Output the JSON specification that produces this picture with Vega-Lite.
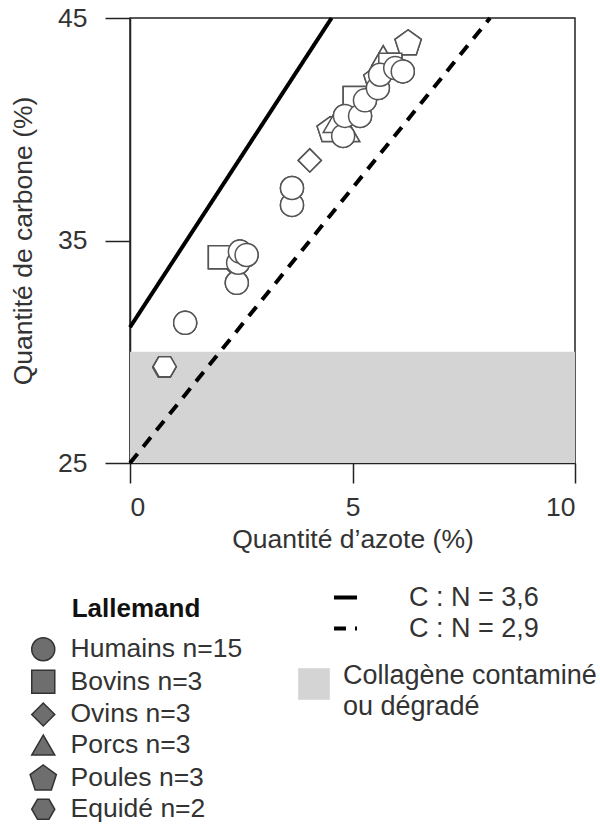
{
  "$schema": "https://vega.github.io/schema/vega-lite/v6.json",
  "width": 445,
  "height": 445,
  "autosize": {"type": "none"},
  "padding": {"left": 130, "top": 18, "right": 25, "bottom": 366},
  "background": "white",
  "config": {
    "view": {"stroke": "#222", "strokeWidth": 1.5},
    "font": "Liberation Sans",
    "axis": {
      "grid": false,
      "domainColor": "#222",
      "domainWidth": 1.5,
      "tickColor": "#222",
      "tickWidth": 1.5,
      "labelFont": "Liberation Sans",
      "labelFontSize": 26.5,
      "labelColor": "#333",
      "titleFont": "Liberation Sans",
      "titleFontSize": 26.5,
      "titleFontWeight": "normal",
      "titleColor": "#333"
    },
    "legend": {
      "labelFont": "Liberation Sans",
      "titleFont": "Liberation Sans",
      "labelColor": "#333",
      "padding": 0
    }
  },
  "datasets": {
    "band": [
      {"n0": 0, "n1": 10, "c0": 25, "c1": 30, "zone": "Collagène contaminé|ou dégradé"}
    ],
    "lines": [
      {"ratio": "C : N = 3,6", "n": 0, "c": 31.1},
      {"ratio": "C : N = 3,6", "n": 4.53, "c": 45},
      {"ratio": "C : N = 2,9", "n": 0, "c": 25},
      {"ratio": "C : N = 2,9", "n": 8.09, "c": 45}
    ],
    "points": [
      {"species": "Equidé n=2", "n": 0.77, "c": 29.3},
      {"species": "Equidé n=2", "n": 0.78, "c": 29.33},
      {"species": "Poules n=3", "n": 6.25, "c": 43.9},
      {"species": "Poules n=3", "n": 4.5, "c": 40.0},
      {"species": "Poules n=3", "n": 5.55, "c": 42.3},
      {"species": "Porcs n=3", "n": 5.69, "c": 43.3},
      {"species": "Porcs n=3", "n": 4.6, "c": 40.3},
      {"species": "Porcs n=3", "n": 4.9, "c": 39.9},
      {"species": "Ovins n=3", "n": 4.04, "c": 38.6},
      {"species": "Ovins n=3", "n": 2.35, "c": 33.9},
      {"species": "Ovins n=3", "n": 5.7, "c": 42.6},
      {"species": "Bovins n=3", "n": 2.02, "c": 34.25},
      {"species": "Bovins n=3", "n": 5.85, "c": 42.9},
      {"species": "Bovins n=3", "n": 5.05, "c": 41.4},
      {"species": "Humains n=15", "n": 1.24, "c": 31.3},
      {"species": "Humains n=15", "n": 2.4, "c": 33.1},
      {"species": "Humains n=15", "n": 2.43, "c": 34.0},
      {"species": "Humains n=15", "n": 2.47, "c": 34.5},
      {"species": "Humains n=15", "n": 2.62, "c": 34.35},
      {"species": "Humains n=15", "n": 3.64, "c": 36.6},
      {"species": "Humains n=15", "n": 3.64, "c": 37.36},
      {"species": "Humains n=15", "n": 4.79, "c": 39.7},
      {"species": "Humains n=15", "n": 4.83, "c": 40.6},
      {"species": "Humains n=15", "n": 5.17, "c": 40.6},
      {"species": "Humains n=15", "n": 5.28, "c": 41.3},
      {"species": "Humains n=15", "n": 5.57, "c": 41.85},
      {"species": "Humains n=15", "n": 5.62, "c": 42.45},
      {"species": "Humains n=15", "n": 5.96, "c": 42.75},
      {"species": "Humains n=15", "n": 6.13, "c": 42.6}
    ]
  },
  "layer": [
    {
      "data": {"name": "band"},
      "mark": {"type": "rect"},
      "encoding": {
        "x": {"field": "n0", "type": "quantitative", "scale": {"domain": [0, 10], "nice": false, "zero": false},
          "axis": {"values": [0, 5, 10], "tickSize": 20, "labelPadding": 11, "titlePadding": 6, "title": "Quantité d’azote (%)"}},
        "x2": {"field": "n1"},
        "y": {"field": "c0", "type": "quantitative", "scale": {"domain": [25, 45], "nice": false, "zero": false},
          "axis": {"values": [25, 35, 45], "tickSize": 25, "labelPadding": 18, "titlePadding": 20, "title": "Quantité de carbone (%)"}},
        "y2": {"field": "c1"},
        "fill": {
          "field": "zone", "type": "nominal",
          "scale": {"domain": ["Collagène contaminé|ou dégradé"], "range": ["#d4d4d4"]},
          "legend": {
            "title": null,
            "orient": "none",
            "legendX": 168,
            "legendY": 650,
            "symbolType": "square",
            "symbolSize": 1000,
            "symbolStrokeWidth": 0,
            "labelFontSize": 27,
            "labelOffset": 13,
            "labelLimit": 400,
            "labelBaseline": "alphabetic",
            "labelExpr": "split(datum.label, '|')",
            "encode": {"labels": {"update": {"lineHeight": {"value": 31}}}}
          }
        }
      }
    },
    {
      "data": {"name": "lines"},
      "mark": {"type": "line", "color": "black", "strokeWidth": 4},
      "encoding": {
        "x": {"field": "n", "type": "quantitative"},
        "y": {"field": "c", "type": "quantitative"},
        "detail": {"field": "ratio"},
        "strokeDash": {
          "field": "ratio", "type": "nominal",
          "scale": {"domain": ["C : N = 3,6", "C : N = 2,9"], "range": [[1, 0], [12, 9]]},
          "legend": {
            "title": null,
            "orient": "none",
            "legendX": 202,
            "legendY": 566,
            "symbolType": "stroke",
            "symbolSize": 529,
            "symbolStrokeWidth": 4,
            "symbolStrokeColor": "black",
            "labelFontSize": 27,
            "labelOffset": 50,
            "rowPadding": 3,
            "encode": {
              "symbols": {
                "update": {
                  "strokeDash": {"signal": "datum.value === 'C : N = 2,9' ? [5, 3] : [1, 0]"}
                }
              }
            }
          }
        }
      }
    },
    {
      "data": {"name": "points"},
      "mark": {"type": "point", "filled": true, "color": "#6e6e6e", "stroke": "#333", "strokeWidth": 1.5, "opacity": 1, "size": 530},
      "encoding": {
        "x": {"field": "n", "type": "quantitative"},
        "y": {"field": "c", "type": "quantitative"},
        "shape": {
          "field": "species", "type": "nominal",
          "scale": {
            "domain": ["Humains n=15", "Bovins n=3", "Ovins n=3", "Porcs n=3", "Poules n=3", "Equidé n=2"],
            "range": ["circle", "square", "diamond", "triangle-up",
              "M0,-1.1L1.141,-0.271L0.705,1.071L-0.705,1.071L-1.141,-0.271Z",
              "M-1,0L-0.5,-0.866L0.5,-0.866L1,0L0.5,0.866L-0.5,0.866Z"]
          },
          "legend": {
            "title": "Lallemand",
            "orient": "none",
            "legendX": -100,
            "legendY": 578,
            "titleFontSize": 26,
            "titleFontWeight": "bold",
            "titleColor": "#111",
            "titleAnchor": "middle",
            "titlePadding": 14,
            "labelFontSize": 26.5,
            "labelOffset": 14,
            "labelLimit": 400,
            "symbolSize": 530,
            "rowPadding": 2.6,
            "encode": {
              "symbols": {
                "update": {
                  "size": {"value": 530},
                  "strokeWidth": {"value": 1.5},
                  "opacity": {"value": 1}
                }
              }
            }
          }
        }
      }
    },
    {
      "data": {"name": "points"},
      "mark": {"type": "point", "filled": true, "fill": "white", "stroke": "#555", "strokeWidth": 1.5, "opacity": 1, "size": 530},
      "encoding": {
        "x": {"field": "n", "type": "quantitative"},
        "y": {"field": "c", "type": "quantitative"},
        "shape": {"field": "species", "type": "nominal", "legend": null}
      }
    }
  ]
}
